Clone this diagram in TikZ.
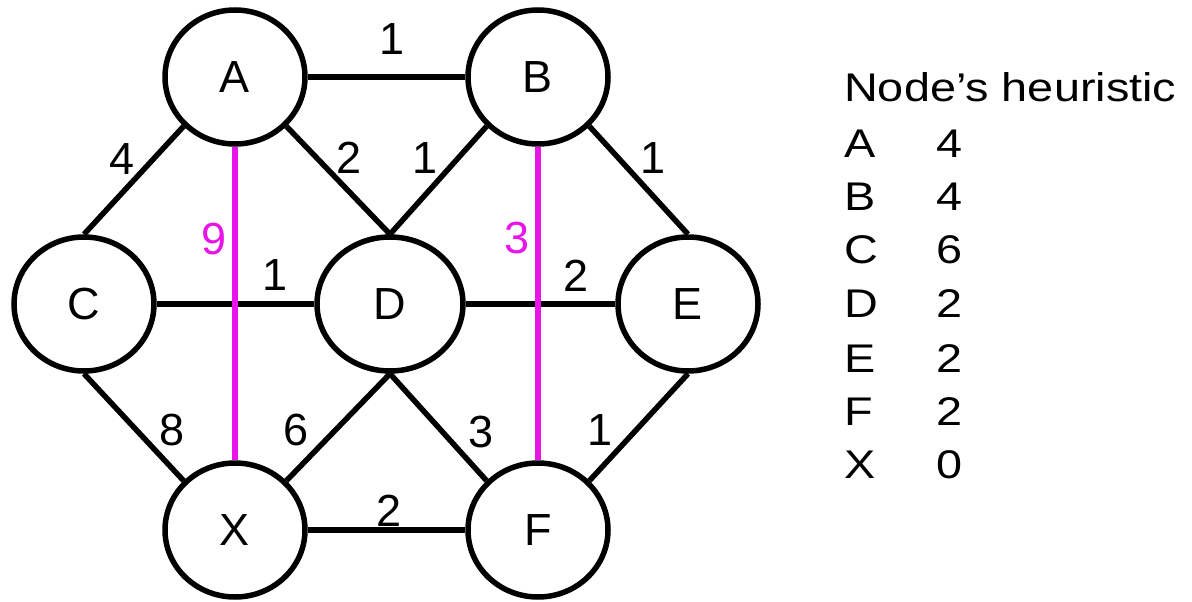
\documentclass[tikz,border=0pt]{standalone}
\usepackage{fontspec}
\setmainfont{Liberation Sans}
\newfontfamily\tabfont{Liberation Sans}[FakeStretch=1.17]
\usetikzlibrary{shapes.geometric}
\definecolor{mag}{RGB}{232,20,232}
\begin{document}
\begin{tikzpicture}[x=1pt,y=-1pt,
  vert/.style={ellipse,draw,line width=5.5pt,minimum width=140pt,minimum height=134pt,inner sep=0pt,font=\fontsize{45}{54}\selectfont},
  edge/.style={line width=5.5pt},
  hedge/.style={line width=5.5pt,draw=mag},
  wt/.style={inner sep=0pt,font=\fontsize{45}{54}\selectfont},
  hwt/.style={wt,text=mag},
  tab/.style={anchor=base west,inner sep=0pt,font=\tabfont\fontsize{40}{48}\selectfont}]
\fill[white] (0,0) rectangle (1192,602);
\useasboundingbox (0,0) rectangle (1192,602);

\node[vert] (A) at (235,77) {A};
\node[vert] (B) at (538,77) {B};
\node[vert] (C) at (84,304) {C};
\node[vert,minimum width=146pt] (D) at (390,304) {D};
\node[vert] (E) at (688,304) {E};
\node[vert] (X) at (235,530) {X};
\node[vert] (F) at (538,530) {F};

\draw[edge] (A.east) -- (B.west);
\draw[edge] (C.east) -- (D.west);
\draw[edge] (D.east) -- (E.west);
\draw[edge] (X.east) -- (F.west);
\draw[edge] (A.south west) -- (C.north);
\draw[edge] (A.south east) -- (D.north);
\draw[edge] (B.south west) -- (D.north);
\draw[edge] (B.south east) -- (E.north);
\draw[edge] (C.south) -- (X.north west);
\draw[edge] (D.south) -- (X.north east);
\draw[edge] (D.south) -- (F.north west);
\draw[edge] (E.south) -- (F.north east);

\draw[hedge] (A.south) -- (X.north);
\draw[hedge] (B.south) -- (F.north);

\node[wt] (wab) at (392,39) {1};
\node[wt] (wac) at (122,159) {4};
\node[wt] (wad) at (349,158) {2};
\node[wt] (wbd) at (425,158) {1};
\node[wt] (wbe) at (653,158) {1};
\node[wt] (wcd) at (275,275) {1};
\node[wt] (wde) at (576,276) {2};
\node[wt] (wcx) at (172,430) {8};
\node[wt] (wdx) at (296,430) {6};
\node[wt] (wdf) at (481,432) {3};
\node[wt] (wef) at (600,430) {1};
\node[wt] (wxf) at (389,511) {2};
\node[hwt] (wax) at (214,239) {9};
\node[hwt] (wbf) at (517,238) {3};

\node[tab] (hd) at (844,102) {Node’s heuristic};
\node[tab] (ra) at (844,157) {A};
\node[tab] (rb) at (844,210) {B};
\node[tab] (rc) at (844,263) {C};
\node[tab] (rd) at (844,317) {D};
\node[tab] (re) at (844,372) {E};
\node[tab] (rf) at (844,425) {F};
\node[tab] (rx) at (844,478) {X};
\node[tab] (va) at (936,157) {4};
\node[tab] (vb) at (936,210) {4};
\node[tab] (vc) at (936,263) {6};
\node[tab] (vd) at (936,317) {2};
\node[tab] (ve) at (936,372) {2};
\node[tab] (vf) at (936,425) {2};
\node[tab] (vx) at (936,478) {0};
\end{tikzpicture}
\end{document}
